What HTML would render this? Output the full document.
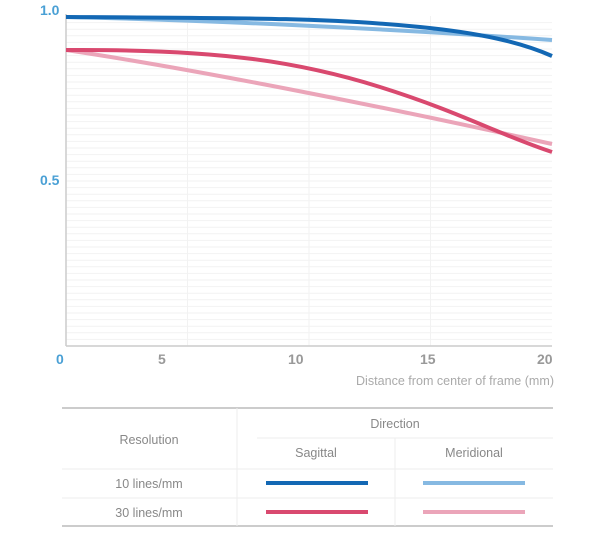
<!DOCTYPE html>
<html><head><meta charset="utf-8"><style>
body{margin:0;background:#fff;}
svg{display:block;font-family:"Liberation Sans",sans-serif;}
</style></head><body>
<svg width="604" height="550" viewBox="0 0 604 550">
<g stroke="#f2f2f2" stroke-width="1">
<line x1="66" y1="22.6" x2="552" y2="22.6"/><line x1="66" y1="29.2" x2="552" y2="29.2"/><line x1="66" y1="35.8" x2="552" y2="35.8"/><line x1="66" y1="42.4" x2="552" y2="42.4"/><line x1="66" y1="49" x2="552" y2="49"/><line x1="66" y1="55.6" x2="552" y2="55.6"/><line x1="66" y1="62.2" x2="552" y2="62.2"/><line x1="66" y1="68.8" x2="552" y2="68.8"/><line x1="66" y1="75.4" x2="552" y2="75.4"/><line x1="66" y1="82" x2="552" y2="82"/><line x1="66" y1="88.6" x2="552" y2="88.6"/><line x1="66" y1="95.2" x2="552" y2="95.2"/><line x1="66" y1="101.8" x2="552" y2="101.8"/><line x1="66" y1="108.4" x2="552" y2="108.4"/><line x1="66" y1="115" x2="552" y2="115"/><line x1="66" y1="121.6" x2="552" y2="121.6"/><line x1="66" y1="128.2" x2="552" y2="128.2"/><line x1="66" y1="134.8" x2="552" y2="134.8"/><line x1="66" y1="141.4" x2="552" y2="141.4"/><line x1="66" y1="148" x2="552" y2="148"/><line x1="66" y1="154.6" x2="552" y2="154.6"/><line x1="66" y1="161.2" x2="552" y2="161.2"/><line x1="66" y1="167.8" x2="552" y2="167.8"/><line x1="66" y1="174.4" x2="552" y2="174.4"/><line x1="66" y1="181" x2="552" y2="181"/><line x1="66" y1="187.6" x2="552" y2="187.6"/><line x1="66" y1="194.2" x2="552" y2="194.2"/><line x1="66" y1="200.8" x2="552" y2="200.8"/><line x1="66" y1="207.4" x2="552" y2="207.4"/><line x1="66" y1="214" x2="552" y2="214"/><line x1="66" y1="220.6" x2="552" y2="220.6"/><line x1="66" y1="227.2" x2="552" y2="227.2"/><line x1="66" y1="233.8" x2="552" y2="233.8"/><line x1="66" y1="240.4" x2="552" y2="240.4"/><line x1="66" y1="247" x2="552" y2="247"/><line x1="66" y1="253.6" x2="552" y2="253.6"/><line x1="66" y1="260.2" x2="552" y2="260.2"/><line x1="66" y1="266.8" x2="552" y2="266.8"/><line x1="66" y1="273.4" x2="552" y2="273.4"/><line x1="66" y1="280" x2="552" y2="280"/><line x1="66" y1="286.6" x2="552" y2="286.6"/><line x1="66" y1="293.2" x2="552" y2="293.2"/><line x1="66" y1="299.8" x2="552" y2="299.8"/><line x1="66" y1="306.4" x2="552" y2="306.4"/><line x1="66" y1="313" x2="552" y2="313"/><line x1="66" y1="319.6" x2="552" y2="319.6"/><line x1="66" y1="326.2" x2="552" y2="326.2"/><line x1="66" y1="332.8" x2="552" y2="332.8"/><line x1="66" y1="339.4" x2="552" y2="339.4"/>
<line x1="187.5" y1="16" x2="187.5" y2="346"/><line x1="309" y1="16" x2="309" y2="346"/><line x1="430.5" y1="16" x2="430.5" y2="346"/>
</g>
<line x1="66" y1="14" x2="66" y2="346" stroke="#ccc" stroke-width="1.5"/>
<line x1="66" y1="346" x2="552" y2="346" stroke="#ccc" stroke-width="1.5"/>
<g fill="none" stroke-width="4" stroke-linecap="butt">
<path d="M66,17 C200,20 380,28 552,40" stroke="#86b9e2"/>
<path d="M66,50 C200,70 400,110 552,144" stroke="#eba5b9"/>
<path d="M66,50 C220,49 300,62 380,87 C460,112 500,135 552,152" stroke="#d9496f"/>
<path d="M66,17 C250,18 330,18 420,27 C480,33 520,42 552,56" stroke="#1368b4"/>
</g>
<g font-size="14" font-weight="bold" fill="#999">
<text x="40" y="15" fill="#4aa0d5">1.0</text>
<text x="40" y="185" fill="#4aa0d5">0.5</text>
<text x="56" y="364" fill="#4aa0d5">0</text>
<text x="158" y="364">5</text>
<text x="288" y="364">10</text>
<text x="420" y="364">15</text>
<text x="537" y="364">20</text>
</g>
<text x="554" y="385" font-size="12.5" fill="#aaa" text-anchor="end" textLength="198" lengthAdjust="spacingAndGlyphs">Distance from center of frame (mm)</text>
<g stroke-width="1">
<line x1="62" y1="408" x2="553" y2="408" stroke="#ccc" stroke-width="2"/>
<line x1="62" y1="526" x2="553" y2="526" stroke="#ccc" stroke-width="2"/>
<line x1="237" y1="408" x2="237" y2="526" stroke="#eee"/>
<line x1="257" y1="438" x2="553" y2="438" stroke="#eee"/>
<line x1="395" y1="438" x2="395" y2="526" stroke="#eee"/>
<line x1="62" y1="469" x2="553" y2="469" stroke="#eee"/>
<line x1="62" y1="498" x2="553" y2="498" stroke="#eee"/>
</g>
<g font-size="12.5" fill="#888" text-anchor="middle">
<text x="149" y="444">Resolution</text>
<text x="395" y="428">Direction</text>
<text x="316" y="457">Sagittal</text>
<text x="474" y="457">Meridional</text>
<text x="149" y="488">10 lines/mm</text>
<text x="149" y="517">30 lines/mm</text>
</g>
<rect x="266" y="481" width="102" height="4" fill="#1368b4"/>
<rect x="423" y="481" width="102" height="4" fill="#86b9e2"/>
<rect x="266" y="510" width="102" height="4" fill="#d9496f"/>
<rect x="423" y="510" width="102" height="4" fill="#eba5b9"/>
</svg>
</body></html>
